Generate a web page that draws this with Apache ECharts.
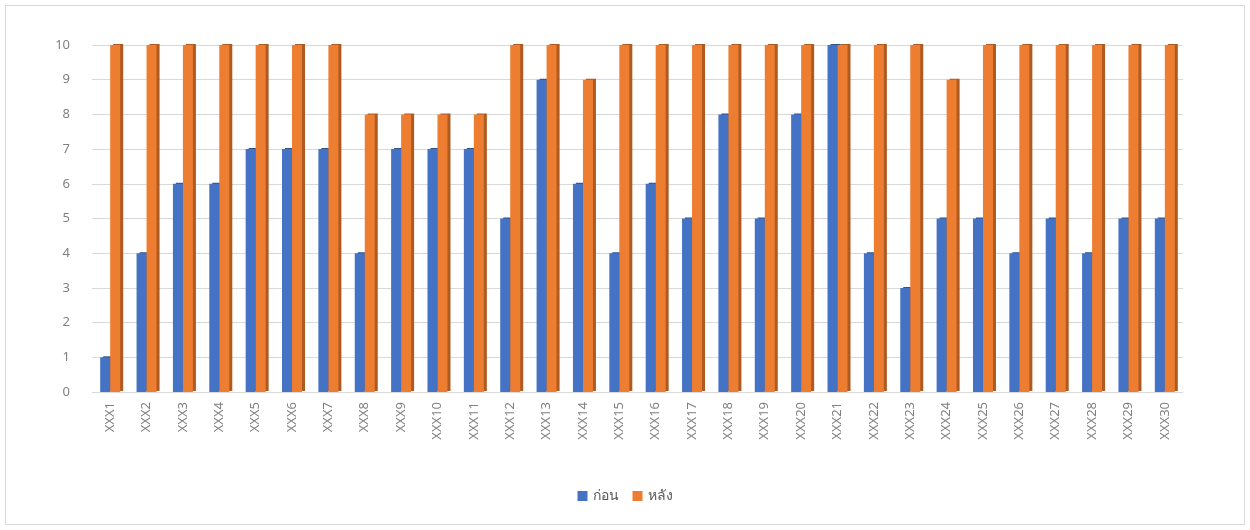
<!DOCTYPE html>
<html>
<head>
<meta charset="utf-8">
<script src="https://cdn.jsdelivr.net/npm/echarts@6/dist/echarts.min.js"></script>
<style>
  html, body { margin: 0; padding: 0; background: #fff; }
  #wrap { position: absolute; left: 5px; top: 5px; width: 1238px; height: 518px; border: 1px solid #d9d9d9; }
  #chart { width: 1250px; height: 530px; position: absolute; left: -6px; top: -6px; }
</style>
</head>
<body>
<div id="wrap"><div id="chart"></div></div>
<script>
// หมวดหมู่
var categories = [];
for (var i = 1; i <= 30; i++) categories.push('XXX' + i);

var beforeVals = [1, 4, 6, 6, 7, 7, 7, 4, 7, 7, 7, 5, 9, 6, 4, 6, 5, 8, 5, 8, 10, 4, 3, 5, 5, 4, 5, 4, 5, 5];
var afterVals = [10, 10, 10, 10, 10, 10, 10, 8, 8, 8, 8, 10, 10, 9, 10, 10, 10, 10, 10, 10, 10, 10, 10, 9, 10, 10, 10, 10, 10, 10];
var seriesNames = ['ก่อน', 'หลัง'];

var chart = echarts.init(document.getElementById('chart'));

var font = 'Noto Sans, sans-serif';

chart.setOption({
  animation: false,
  grid: { left: 92, right: 67, top: 45, bottom: 138 },
  legend: {
    bottom: 22,
    left: 'center',
    itemWidth: 10,
    itemHeight: 10,
    itemGap: 14,
    icon: 'rect',
    textStyle: { color: '#595959', fontSize: 14, fontFamily: font }
  },
  xAxis: {
    type: 'category',
    data: categories,
    axisLine: { show: false },
    axisTick: { show: false },
    axisLabel: { rotate: 90, color: '#808080', fontSize: 13, fontFamily: font, margin: 10 }
  },
  yAxis: {
    type: 'value',
    min: 0,
    max: 10,
    interval: 1,
    axisLine: { show: false },
    axisTick: { show: false },
    axisLabel: { color: '#808080', fontSize: 13, fontFamily: font, margin: 22 },
    splitLine: { lineStyle: { color: '#d9d9d9', width: 1 } }
  },
  series: [
    {
      name: seriesNames[0],
      type: 'bar',
      data: beforeVals,
      barWidth: 10,
      barGap: '0%',
      itemStyle: {
        color: '#4472c4',
        shadowColor: '#2f528f',
        shadowOffsetX: 3,
        shadowOffsetY: -1,
        shadowBlur: 0
      }
    },
    {
      name: seriesNames[1],
      type: 'bar',
      data: afterVals,
      barWidth: 10,
      itemStyle: {
        color: '#ed7d31',
        shadowColor: '#ae5a21',
        shadowOffsetX: 3,
        shadowOffsetY: -1,
        shadowBlur: 0
      }
    }
  ]
});
</script>
</body>
</html>
